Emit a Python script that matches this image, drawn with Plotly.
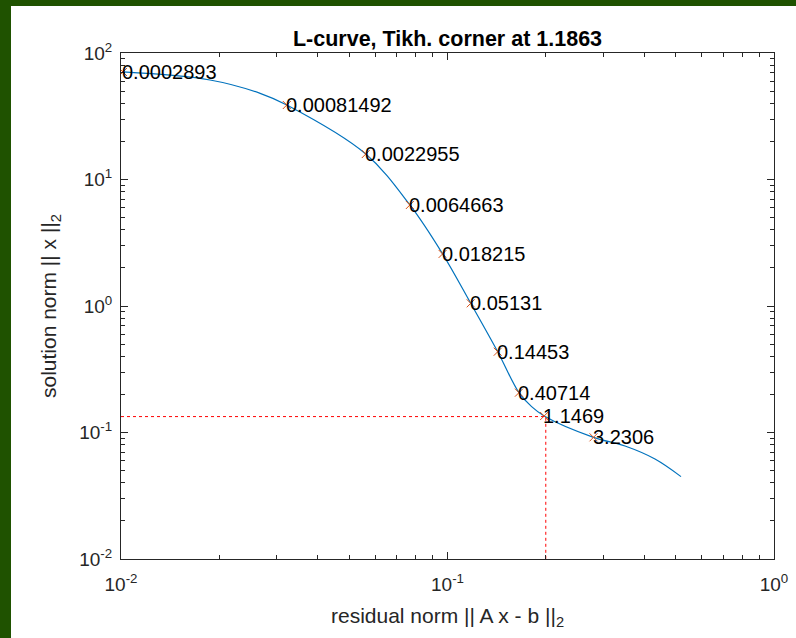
import numpy as np
import plotly.graph_objects as go

# Regularization parameters labelled along the L-curve
lambda_labels = ["0.0002893", "0.00081492", "0.0022955", "0.0064663", "0.018215",
                 "0.05131", "0.14453", "0.40714", "1.1469", "3.2306"]
# Residual norm / solution norm at each labelled parameter
rho_marks = [0.01014, 0.0322, 0.0562, 0.0767, 0.0966, 0.1178, 0.1425, 0.1655, 0.1977, 0.280]
eta_marks = [70.8, 38.8, 15.9, 6.29, 2.58, 1.05, 0.435, 0.2065, 0.135, 0.0916]

# Sampled L-curve
rho_curve = [0.01014, 0.01874, 0.02668, 0.0322, 0.0562, 0.0767, 0.0966, 0.1178,
             0.1425, 0.1655, 0.181, 0.1977, 0.280, 0.3497, 0.432, 0.519]
eta_curve = [70.8, 61.2, 48.0, 38.8, 15.9, 6.29, 2.58, 1.05,
             0.435, 0.2065, 0.160, 0.135, 0.0916, 0.0782, 0.0617, 0.0448]

# Corner of the L-curve
rho_corner = 0.2
eta_corner = 0.1336
lambda_corner = "1.1863"

x_min, x_max = 1e-2, 1e0
y_min, y_max = 1e-2, 1e2

FONT = "Liberation Sans, Arial, Helvetica, sans-serif"
AXIS_COLOR = "#262626"
FRAME_GREEN = "#1f5200"

fig = go.Figure()

fig.add_trace(go.Scatter(
    x=rho_curve, y=eta_curve, mode="lines",
    line=dict(color="#0072BD", width=1.2, shape="spline", smoothing=1.0),
    hoverinfo="skip", showlegend=False,
))
fig.add_trace(go.Scatter(
    x=rho_marks, y=eta_marks, mode="markers",
    marker=dict(symbol="x-thin", size=8, line=dict(color="#D95319", width=1)),
    showlegend=False,
))
# Dotted guides to the corner
fig.add_trace(go.Scatter(
    x=[x_min, rho_corner, rho_corner], y=[eta_corner, eta_corner, y_min], mode="lines",
    line=dict(color="#FF0000", width=1, dash="dot"),
    hoverinfo="skip", showlegend=False,
))

for lab, r, e in zip(lambda_labels, rho_marks, eta_marks):
    fig.add_annotation(
        x=np.log10(r), y=np.log10(e), text=lab, showarrow=False,
        xanchor="left", yanchor="middle", xshift=-3,
        font=dict(family=FONT, size=20, color="#000000"),
    )

def decade_ticks(lo, hi):
    vals = [10.0 ** k for k in range(lo, hi + 1)]
    text = [f"10<sup>{k}</sup>" for k in range(lo, hi + 1)]
    minor = [m * 10.0 ** k for k in range(lo, hi) for m in range(2, 10)]
    return vals, text, minor

xv, xt, xm = decade_ticks(-2, 0)
yv, yt, ym = decade_ticks(-2, 2)

axis_common = dict(
    type="log", showgrid=False, zeroline=False, automargin=False,
    showline=True, linecolor=AXIS_COLOR, linewidth=1, mirror="ticks",
    ticks="inside", ticklen=7, tickwidth=1, tickcolor=AXIS_COLOR,
    tickfont=dict(family=FONT, size=19, color=AXIS_COLOR),
)

fig.update_xaxes(
    range=[np.log10(x_min), np.log10(x_max)], tickmode="array", tickvals=xv, ticktext=xt,
    minor=dict(ticks="inside", ticklen=4, tickcolor=AXIS_COLOR, tickvals=xm),
    ticklabelstandoff=8,
    title=dict(text="residual norm || A x - b ||<sub>2</sub>",
               font=dict(family=FONT, size=21, color=AXIS_COLOR), standoff=14),
    **axis_common,
)
fig.update_yaxes(
    range=[np.log10(y_min), np.log10(y_max)], tickmode="array", tickvals=yv, ticktext=yt,
    minor=dict(ticks="inside", ticklen=4, tickcolor=AXIS_COLOR, tickvals=ym),
    ticklabelstandoff=4,
    title=dict(text="solution norm || x ||<sub>2</sub>",
               font=dict(family=FONT, size=21, color=AXIS_COLOR), standoff=16),
    **axis_common,
)

W, H = 796, 638
L, R, T, B = 121, 22, 53, 79
pw, ph = W - L - R, H - T - B

def px_x(p):
    return (p - L) / pw

def px_y(p):
    return (H - B - p) / ph

# White figure face inside the green frame (left and top edges)
fig.add_shape(type="rect", xref="paper", yref="paper", layer="below",
              x0=px_x(11), x1=px_x(W + 60), y0=px_y(H + 60), y1=px_y(6),
              line=dict(width=0), fillcolor="#ffffff")

fig.update_layout(
    width=W, height=H, autosize=False,
    margin=dict(l=L, r=R, t=T, b=B, pad=0, autoexpand=False),
    paper_bgcolor=FRAME_GREEN, plot_bgcolor="#ffffff",
    title=dict(text=f"<b>L-curve, Tikh. corner at {lambda_corner}</b>",
               x=(L + pw / 2) / W, xanchor="center", y=1 - 38 / H, yanchor="middle",
               font=dict(family=FONT, size=21.5, color="#000000")),
    showlegend=False,
)

fig.write_html("out.html")
